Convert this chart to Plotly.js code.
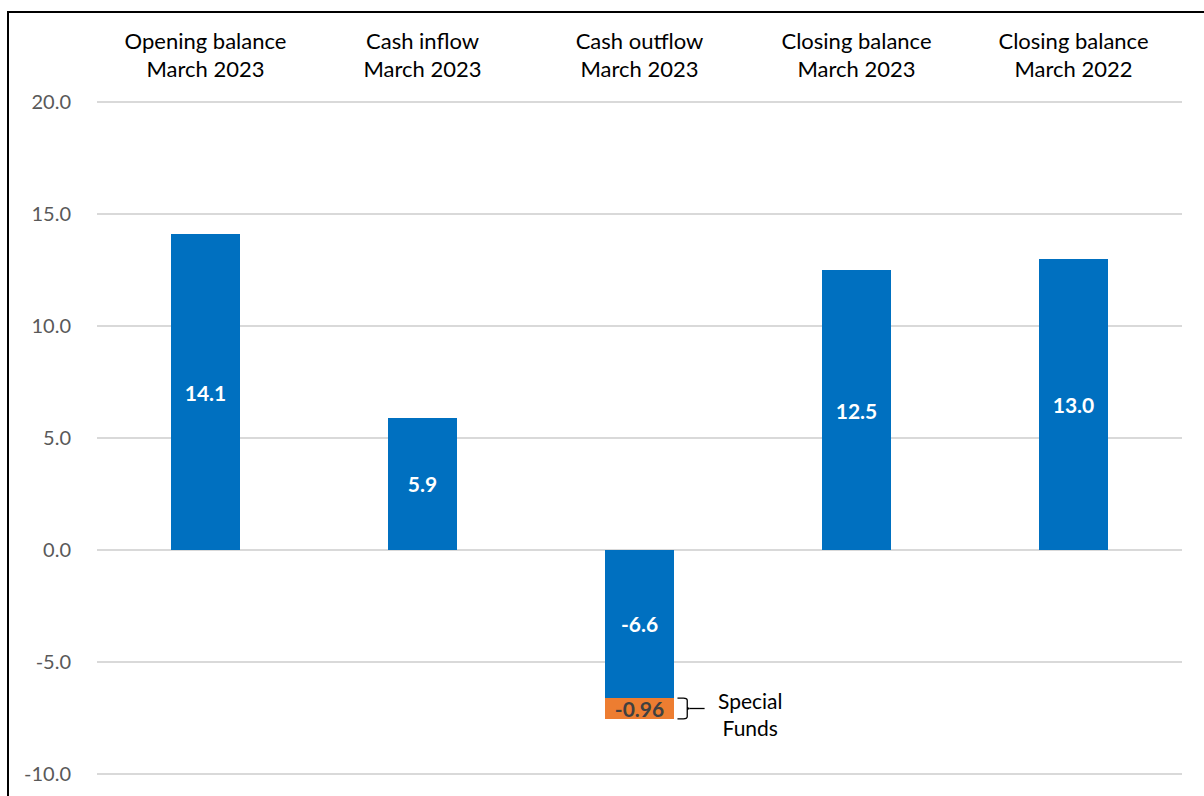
<!DOCTYPE html>
<html>
<head>
<meta charset="utf-8">
<script src="https://cdn.plot.ly/plotly-3.0.1.min.js"></script>
<style>
html,body{margin:0;padding:0;background:#fff;overflow:hidden;}
#frame{position:absolute;left:7px;top:11px;width:1400px;height:1000px;border-left:2px solid #000;border-top:2px solid #000;}
#chart{position:absolute;left:0;top:0;width:1204px;height:796px;}
</style>
</head>
<body>
<div id="frame"></div>
<div id="chart"></div>
<script>
const categories = [
  "Opening balance<br>March 2023",
  "Cash inflow<br>March 2023",
  "Cash outflow<br>March 2023",
  "Closing balance<br>March 2023",
  "Closing balance<br>March 2022"
];
const mainValues = [14.1, 5.9, -6.6, 12.5, 13.0];
const specialFunds = [null, null, -0.96, null, null];
const specialLabel = "Special<br>Funds";
const yTicks = [-10, -5, 0, 5, 10, 15, 20];

const FONT = "Lato, 'Open Sans', sans-serif";

const traces = [
  {
    type: 'bar', x: categories, y: mainValues, width: 0.315,
    marker: {color: '#0070C0'},
    text: mainValues.map(v => v.toFixed(1)), textposition: 'inside',
    insidetextanchor: 'middle', constraintext: 'none',
    textfont: {color: '#ffffff', size: 21, family: FONT, weight: 'bold'},
    hoverinfo: 'x+y', showlegend: false
  },
  {
    type: 'bar', x: categories, y: specialFunds, width: 0.315,
    marker: {color: '#ED7D31'},
    text: specialFunds.map(v => v === null ? '' : v.toFixed(2)), textposition: 'inside',
    insidetextanchor: 'middle', constraintext: 'none',
    textfont: {color: '#404040', size: 21, family: FONT, weight: 'bold'},
    hoverinfo: 'x+y', showlegend: false
  }
];

// bracket geometry (x in category units, y in data units)
const sIdx = 2;
const yTop = mainValues[sIdx];
const yBot = mainValues[sIdx] + specialFunds[sIdx];
const yMid = (yTop + yBot) / 2;
const bx0 = sIdx + 0.175, bx1 = sIdx + 0.23, bx2 = sIdx + 0.3;
const bxm = (bx0 + bx1) / 2;
const bracePath = `M ${bx0},${yTop - 0.02} L ${bxm},${yTop - 0.02} Q ${bx1 - 0.01},${yTop - 0.02} ${bx1 - 0.01},${yTop - 0.12} L ${bx1 - 0.01},${yMid - 0.08} Q ${bx1 - 0.01},${yMid} ${bx1},${yMid} Q ${bx1 - 0.01},${yMid} ${bx1 - 0.01},${yMid + 0.08} L ${bx1 - 0.01},${yBot + 0.12} Q ${bx1 - 0.01},${yBot + 0.02} ${bxm},${yBot + 0.02} L ${bx0},${yBot + 0.02}`;

const layout = {
  width: 1204, height: 796,
  margin: {l: 97, r: 22, t: 101, b: 21},
  paper_bgcolor: 'rgba(0,0,0,0)', plot_bgcolor: 'rgba(0,0,0,0)',
  barmode: 'relative',
  bargap: 0,
  font: {family: FONT, color: '#000'},
  xaxis: {
    type: 'category', side: 'top', showgrid: false, zeroline: false, showline: false,
    tickfont: {size: 22, color: '#000', family: FONT},
    ticks: 'outside', ticklen: 14, tickcolor: 'rgba(0,0,0,0)',
    range: [-0.5, 4.5], fixedrange: true
  },
  yaxis: {
    range: [-10.05, 20.05], tickvals: yTicks, ticktext: yTicks.map(v => v.toFixed(1)),
    showgrid: true, gridcolor: '#d9d9d9', gridwidth: 1.5,
    zeroline: true, zerolinecolor: '#d9d9d9', zerolinewidth: 1.5,
    showline: false,
    tickfont: {size: 20, color: '#595959', family: FONT},
    ticks: 'outside', ticklen: 21, tickcolor: 'rgba(0,0,0,0)',
    fixedrange: true
  },
  shapes: [
    {type: 'path', xref: 'x', yref: 'y', path: bracePath, line: {color: '#000', width: 1.3}},
    {type: 'line', xref: 'x', yref: 'y', x0: bx1, x1: bx2, y0: yMid, y1: yMid, line: {color: '#000', width: 1.3}}
  ],
  annotations: [
    {xref: 'x', yref: 'y', x: sIdx + 0.51, y: yMid - 0.25, text: specialLabel, showarrow: false,
     font: {size: 21, color: '#000', family: FONT}, align: 'center'}
  ]
};

Plotly.newPlot('chart', traces, layout, {displayModeBar: false, staticPlot: true});
</script>
</body>
</html>
